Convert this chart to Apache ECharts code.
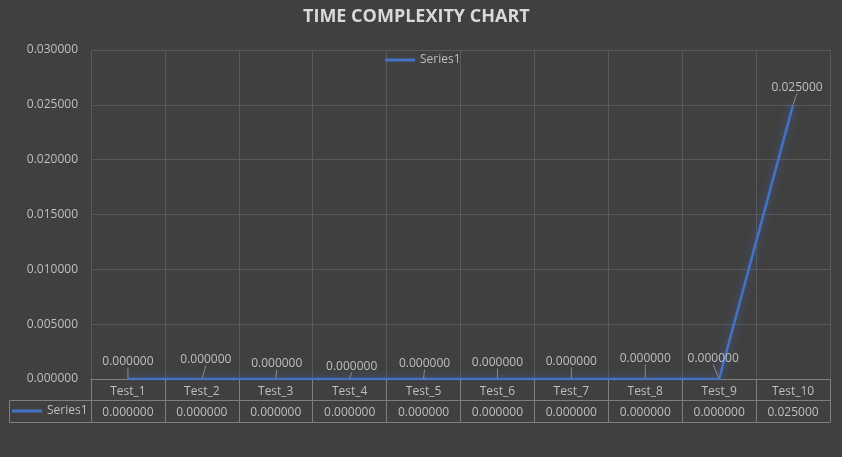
<!DOCTYPE html>
<html>
<head>
<meta charset="utf-8">
<script src="https://cdn.jsdelivr.net/npm/echarts@6/dist/echarts.min.js"></script>
<style>
html,body{margin:0;padding:0;background:#404040;}
#c{width:842px;height:457px;}
</style>
</head>
<body>
<div id="c"></div>
<script>
const categories = ['Test_1','Test_2','Test_3','Test_4','Test_5','Test_6','Test_7','Test_8','Test_9','Test_10'];
const series1 = [0, 0, 0, 0, 0, 0, 0, 0, 0, 0.025];
const yTicks = { min: 0, max: 0.03, interval: 0.005 };
const seriesName = 'Series1';

// label nudges (style only)
const labelNudge = [[0,-6],[4,-8],[1,-4],[2,-1],[1,-4],[0,-5],[0,-6],[0,-9],[-6,-9],[4,-6]];

const FONT = 'Open Sans';
const txt = '#bfbfbf';
const border = '#7f7f7f';
const gridC = '#595959';
const blue = '#4472C4';

const chart = echarts.init(document.getElementById('c'), null, {renderer:'canvas'});
chart.setOption({
  backgroundColor: '#404040',
  animation: false,
  textStyle: { fontFamily: FONT },
  title: {
    text: 'TIME COMPLEXITY CHART',
    left: 298, top: 3,
    textStyle: { color: '#d9d9d9', fontSize: 18, fontWeight: 'bold', fontFamily: FONT }
  },
  legend: [
    { data: [seriesName], top: 49, left: 380, padding: 5, icon: 'rect', itemWidth: 30, itemHeight: 3,
      itemStyle: { color: blue, opacity: 1 },
      textStyle: { color: txt, fontSize: 12, fontFamily: FONT } },
    { data: [seriesName], top: 400, left: 7, padding: 5, icon: 'rect', itemWidth: 30, itemHeight: 3,
      itemStyle: { color: blue, opacity: 1 }, selectedMode: false,
      textStyle: { color: txt, fontSize: 12, fontFamily: FONT } }
  ],
  grid: { left: 91, right: 12, top: 50, bottom: 78, containLabel: false },
  xAxis: [
    { type: 'category', data: categories, boundaryGap: true, position: 'bottom',
      axisLine: { show: true, lineStyle: { color: border, width: 1 } },
      axisTick: { show: true, interval: 0, length: 43, lineStyle: { color: border } },
      axisLabel: { interval: 0, margin: 7, color: txt, fontSize: 12, fontFamily: FONT },
      splitLine: { show: true, interval: 0, lineStyle: { color: gridC } } },
    { type: 'category', data: categories, boundaryGap: true, position: 'bottom', offset: 21,
      axisLine: { show: true, lineStyle: { color: border } },
      axisTick: { show: false },
      axisLabel: { interval: 0, margin: 7, color: txt, fontSize: 12, fontFamily: FONT,
        formatter: (v, i) => series1[i].toFixed(6) },
      splitLine: { show: false } },
    { type: 'category', data: categories, boundaryGap: true, position: 'bottom', offset: 43,
      axisLine: { show: true, lineStyle: { color: border } },
      axisTick: { show: false }, axisLabel: { show: false }, splitLine: { show: false } }
  ],
  yAxis: {
    type: 'value', min: yTicks.min, max: yTicks.max, interval: yTicks.interval,
    axisLine: { show: false }, axisTick: { show: false },
    axisLabel: { color: txt, fontSize: 12, margin: 13, fontFamily: FONT, formatter: v => v.toFixed(6) },
    splitLine: { lineStyle: { color: gridC } }
  },
  graphic: [
    { type: 'polyline', silent: true,
      shape: { points: [[91,400.5],[9.5,400.5],[9.5,422.5],[91,422.5]] },
      style: { stroke: border, fill: null, lineWidth: 1 } }
  ],
  series: [{
    name: seriesName, type: 'line', data: series1, xAxisIndex: 0,
    symbol: 'circle', symbolSize: 1, showSymbol: true,
    itemStyle: { color: 'rgba(0,0,0,0)', borderWidth: 0 },
    lineStyle: { color: blue, width: 2.5, shadowBlur: 8, shadowColor: 'rgba(68,114,196,0.7)' },
    label: { show: true, position: 'top', distance: 5, color: txt, fontSize: 12, fontFamily: FONT,
      formatter: p => p.value.toFixed(6) },
    labelLine: { show: true, lineStyle: { color: '#8c8c8c', width: 1 } },
    labelLayout: p => ({ dx: labelNudge[p.dataIndex][0], dy: labelNudge[p.dataIndex][1] }),
    emphasis: { disabled: true }
  }]
});
</script>
</body>
</html>
